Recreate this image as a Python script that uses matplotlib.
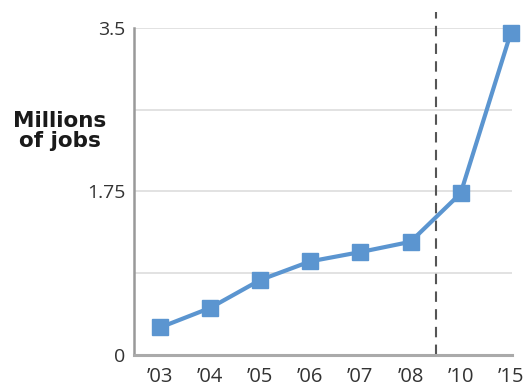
import matplotlib.pyplot as plt

plt.rcParams['font.family'] = ['Open Sans', 'DejaVu Sans']

# data
years = ['\u201903', '\u201904', '\u201905', '\u201906', '\u201907', '\u201908', '\u201910', '\u201915']
jobs = [0.29, 0.50, 0.80, 1.00, 1.10, 1.21, 1.73, 3.45]
ytick_vals = [0, 1.75, 3.5]
ytick_labels = ['0', '1.75', '3.5']
grid_vals = [0.875, 1.75, 2.625, 3.5]

fig = plt.figure(figsize=(5.29, 3.90), dpi=100)
ax = fig.add_axes([0.2533, 0.091, 0.715, 0.836])

for g in grid_vals:
    ax.axhline(g, color='#dddddd', lw=1.2, zorder=0)

x = list(range(len(years)))
ax.plot(x, jobs, color='#5b95d0', lw=3, marker='s', markersize=12,
        markerfacecolor='#5b95d0', markeredgecolor='#5b95d0', clip_on=False, zorder=3)

# break between '08 and '10
ax.plot([5.5, 5.5], [0, 3.68], color='#555555', lw=1.5, ls=(0, (5, 3.5)),
        clip_on=False, zorder=2)

ax.set_xlim(-0.52, 7.03)
ax.set_ylim(0, 3.5)
ax.set_xticks(x)
ax.set_xticklabels(years)
ax.set_yticks(ytick_vals)
ax.set_yticklabels(ytick_labels)
ax.tick_params(length=0, colors='#333333')
ax.tick_params(axis='x', pad=9, labelsize=14.5)
ax.tick_params(axis='y', pad=6, labelsize=14)

for s in ['top', 'right']:
    ax.spines[s].set_visible(False)
ax.spines['left'].set_color('#999999')
ax.spines['left'].set_linewidth(1.8)
ax.spines['bottom'].set_color('#aaaaaa')
ax.spines['bottom'].set_linewidth(2.2)

fig.text(60 / 529, 1 - 131 / 390, 'Millions\nof jobs', ha='center', va='center',
         fontsize=15.5, fontweight='bold', color='#1a1a1a', linespacing=1.05,
         family='DejaVu Sans')

fig.savefig('out.png', dpi=100)
